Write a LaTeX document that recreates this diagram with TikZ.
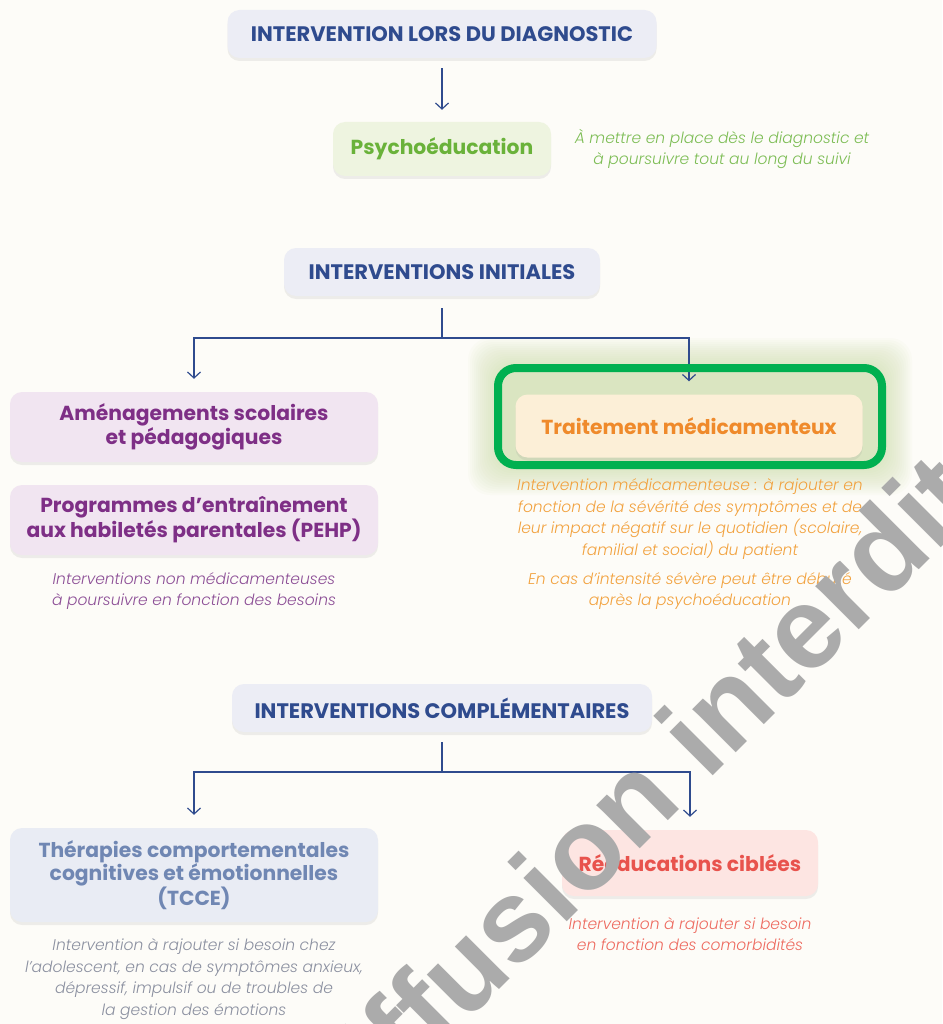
\documentclass[tikz,border=0pt]{standalone}
\usepackage{fontspec}
\setmainfont{Lato}
\newfontfamily\titlefont{Poppins}
\IfFontExistsTF{Poppins Light Italic}
  {\newfontfamily\notefont{Poppins}[UprightFont=* Light,ItalicFont=* Light Italic]}
  {\newfontfamily\notefont{Poppins}}
\newfontfamily\markfont{Liberation Sans}
\usetikzlibrary{arrows.meta,shadows}

\definecolor{paper}{HTML}{FDFCF8}
\definecolor{navy}{HTML}{2F4B8E}
\definecolor{headfill}{HTML}{ECEDF5}
\definecolor{psyfill}{HTML}{EEF4E0}
\definecolor{psytext}{HTML}{6AB23A}
\definecolor{psynote}{HTML}{7DBD55}
\definecolor{purfill}{HTML}{F1E5F1}
\definecolor{purtext}{HTML}{7E2F86}
\definecolor{purnote}{HTML}{8C4E96}
\definecolor{orafill}{HTML}{FCEFD7}
\definecolor{oratext}{HTML}{EF8A2B}
\definecolor{oranote}{HTML}{F2A23F}
\definecolor{tccfill}{HTML}{E9ECF4}
\definecolor{tcctext}{HTML}{7087B3}
\definecolor{tccnote}{HTML}{8B90A0}
\definecolor{redfill}{HTML}{FDE5E2}
\definecolor{redtext}{HTML}{E8534D}
\definecolor{rednote}{HTML}{EE6B60}
\definecolor{frame}{HTML}{00B050}
\definecolor{glow}{HTML}{C9DCA0}
\definecolor{mark}{HTML}{ABABAB}

\tikzset{
  every node/.style={align=center},
  box/.style={rounded corners=12pt,inner sep=0pt,
    font=\titlefont\bfseries\fontsize{20.3}{22.5}\selectfont,
    drop shadow={shadow xshift=0pt,shadow yshift=-3pt,opacity=.12}},
  head/.style={box,fill=headfill,text=navy,minimum height=48pt,
    font=\titlefont\bfseries\fontsize{21}{24}\selectfont},
  psybox/.style={box,fill=psyfill,text=psytext},
  purbox/.style={box,fill=purfill,text=purtext,minimum width=368pt,minimum height=70pt},
  orabox/.style={box,fill=orafill,text=oratext,minimum width=347pt,minimum height=63pt},
  tccbox/.style={box,fill=tccfill,text=tcctext,minimum width=368pt,minimum height=94pt},
  redbox/.style={box,fill=redfill,text=redtext,minimum width=256pt,minimum height=66pt},
  note/.style={font=\notefont\itshape\fontsize{15.5}{21.7}\selectfont},
  link/.style={draw=navy,line width=1.2pt},
  arr/.style={link,-{Straight Barb[length=6pt,width=13pt]}},
  hilite/.style={draw=frame,line width=8pt,rounded corners=18pt},
  wmark/.style={text=mark,inner sep=0pt,anchor=base west,
    font=\markfont\bfseries\fontsize{116}{116}\selectfont}
}

\begin{document}
\begin{tikzpicture}[x=1pt,y=-1pt]
      \useasboundingbox (0,0) rectangle (942,1024);
      \clip (0,0) rectangle (942,1024);
      \fill[paper] (0,0) rectangle (942,1024);

      % halo round the medication box
      \foreach \g in {0,2,...,30}
        \fill[glow,opacity=.05,rounded corners=22pt] (498-\g,368-\g) rectangle (882+\g,465+\g);

      \node [head,minimum width=429pt] (diag) at (442,34) {INTERVENTION LORS DU DIAGNOSTIC};
      \node [psybox,minimum width=218pt,minimum height=54pt] (psy) at (442,149) {Psychoéducation};
      \node [note,text=psynote] (psyn) at (722,149) {À mettre en place dès le diagnostic et\\à poursuivre tout au long du suivi};

      \node [head,minimum width=316pt] (init) at (442,272) {INTERVENTIONS INITIALES};
      \node [purbox] (ame) at (194,427) {Aménagements scolaires\\et pédagogiques};
      \node [purbox] (pehp) at (194,520) {Programmes d’entraînement\\aux habiletés parentales (PEHP)};
      \node [note,text=purnote] (puren) at (194,591) {Interventions non médicamenteuses\\à poursuivre en fonction des besoins};
      \node [orabox] (trt) at (689,426) {Traitement médicamenteux};
      \node [note,text=oranote] (trtn) at (690,519) {Intervention médicamenteuse : à rajouter en\\fonction de la sévérité des symptômes et de\\leur impact négatif sur le quotidien (scolaire,\\familial et social) du patient};
      \node [note,text=oranote] (trtn2) at (690,591) {En cas d’intensité sévère peut être débuté\\après la psychoéducation};

      \node [head,minimum width=420pt] (comp) at (442,708) {INTERVENTIONS COMPLÉMENTAIRES};
      \node [tccbox] (tcce) at (194,875) {Thérapies comportementales\\cognitives et émotionnelles\\(TCCE)};
      \node [note,text=tccnote] (tccen) at (194,979) {Intervention à rajouter si besoin chez\\l’adolescent, en cas de symptômes anxieux,\\dépressif, impulsif ou de troubles de\\la gestion des émotions};
      \node [redbox] (reed) at (690,863) {Rééducations ciblées};
      \node [note,text=rednote] (reedn) at (690,934) {Intervention à rajouter si besoin\\en fonction des comorbidités};

      \coordinate (jI) at (442,338);
      \coordinate (jC) at (442,772);

      \draw [arr,shorten <=10pt,shorten >=12pt] (diag) -- (psy);
      \draw [link,shorten <=12pt] (init) -- (jI);
      \draw [link,shorten <=10pt] (comp) -- (jC);
      \foreach \from/\to in {jI/ame,jI/trt,jC/tcce,jC/reed}
        \draw [arr,shorten >=13pt] (\from) -| (\to);

      \draw [hilite] (498,368) rectangle (882,465);

      \node [wmark,rotate=45] (wm) at (329,1160) {Diffusion interdite};
    \end{tikzpicture}
\end{document}
